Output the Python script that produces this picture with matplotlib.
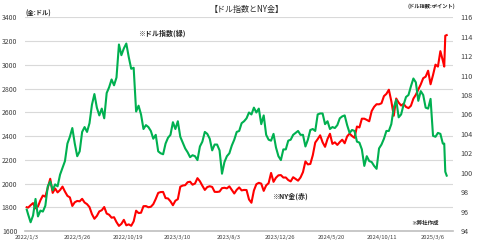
import matplotlib
matplotlib.use("Agg")
import matplotlib.pyplot as plt
import pandas as pd

plt.rcParams['font.family'] = ['Noto Sans CJK JP', 'DejaVu Sans']

# weekly (Friday) closes, first value = 2022/1/3
gold_2022 = [1800,
             1797, 1817, 1835, 1791, 1807, 1859, 1899, 1889, 1966, 2040, 1921, 1958,
             1925, 1945, 1974, 1932, 1896, 1883, 1811, 1842, 1853, 1850, 1871, 1840,
             1826, 1801, 1742, 1703, 1727, 1765, 1775, 1802, 1747, 1737, 1712, 1716,
             1675, 1643, 1660, 1694, 1648, 1656, 1644, 1681, 1771, 1751, 1754, 1809,
             1810, 1800, 1804, 1826]
gold_2023 = [1870, 1921, 1928, 1929, 1877, 1874, 1850, 1817, 1855, 1868, 1973, 1983,
             1986, 2011, 2015, 1990, 2000, 2045, 2019, 1981, 1946, 1970, 1977, 1971,
             1930, 1929, 1932, 1961, 1964, 1959, 1976, 1946, 1916, 1947, 1967, 1942,
             1946, 1945, 1866, 1838, 1941, 1994, 2006, 1999, 1938, 1984, 2003, 2089,
             2014, 2049, 2069, 2071]
gold_2024 = [2050, 2051, 2029, 2018, 2053, 2038, 2024, 2051, 2096, 2186, 2161, 2165,
             2238, 2345, 2374, 2406, 2347, 2309, 2375, 2419, 2334, 2347, 2325, 2349,
             2369, 2339, 2397, 2421, 2400, 2385, 2480, 2472, 2546, 2546, 2536, 2524,
             2610, 2646, 2668, 2667, 2676, 2736, 2755, 2790, 2694, 2571, 2716, 2681,
             2657, 2671, 2645, 2635]
gold_2025 = [2655, 2715, 2748, 2791, 2835, 2887, 2900, 2950, 2836, 2914, 3001, 2985,
             3115, 3035, 2985, 3245, 3250]

dxy_2022 = [96.2,
            95.7, 94.9, 95.6, 97.3, 95.5, 96.1, 96.0, 96.6, 98.6, 99.1, 98.2, 98.8,
            98.6, 99.8, 100.5, 101.2, 103.0, 103.7, 104.6, 103.0, 101.7, 102.2, 104.2, 104.7,
            104.2, 105.1, 107.0, 108.1, 106.7, 105.9, 106.6, 105.6, 108.2, 108.8, 109.6, 109.0,
            109.8, 113.2, 112.1, 112.8, 113.3, 111.9, 110.7, 110.8, 106.3, 106.9, 106.0, 104.5,
            104.9, 104.7, 104.3, 103.5]
dxy_2023 = [103.9, 102.2, 102.0, 101.9, 103.0, 103.6, 103.9, 105.2, 104.5, 105.3, 103.7, 103.1,
            102.5, 102.1, 101.6, 101.8, 101.7, 101.3, 102.7, 103.2, 104.2, 104.0, 103.5, 102.3,
            102.9, 102.9, 102.3, 99.9, 101.1, 101.7, 102.0, 102.8, 103.4, 104.2, 104.3, 105.1,
            105.3, 105.6, 106.2, 106.0, 106.7, 106.2, 106.6, 105.0, 105.9, 103.9, 103.4, 103.3,
            104.0, 102.6, 101.7, 101.3]
dxy_2024 = [102.4, 102.4, 103.3, 103.4, 103.9, 104.1, 104.3, 103.9, 103.9, 102.7, 103.4, 104.4,
            104.5, 104.3, 106.0, 106.1, 106.1, 105.0, 105.3, 104.5, 104.7, 104.6, 104.9, 105.6,
            105.8, 105.9, 104.9, 104.1, 104.4, 104.3, 103.2, 103.1, 102.4, 100.7, 101.7, 101.2,
            101.1, 100.7, 100.4, 102.5, 102.9, 103.5, 104.3, 104.3, 105.0, 106.7, 107.5, 105.7,
            106.0, 107.0, 107.8, 108.0]
dxy_2025 = [108.9, 109.7, 109.3, 107.4, 108.4, 108.0, 106.7, 106.6, 107.6, 103.8, 103.7, 104.1,
            104.0, 103.0, 103.0, 100.1, 99.7]

dates = pd.to_datetime(["2022-01-03"]
                       + list(pd.date_range("2022-01-07", "2025-04-04", freq="W-FRI").strftime("%Y-%m-%d"))
                       + ["2025-04-08", "2025-04-11", "2025-04-15"])
gold = gold_2022 + gold_2023 + gold_2024 + gold_2025
dxy = dxy_2022 + dxy_2023 + dxy_2024 + dxy_2025

tick_labels = ["2022/1/3", "2022/5/26", "2022/10/19", "2023/3/10", "2023/8/3",
               "2023/12/26", "2024/5/20", "2024/10/11", "2025/3/6"]
tick_dates = pd.to_datetime(tick_labels, format="%Y/%m/%d")

W, H = 480, 248
fig = plt.figure(figsize=(W / 100, H / 100), dpi=100)
ax = fig.add_axes([25 / W, 1 - 231 / H, 428 / W, 213.7 / H])
ax2 = ax.twinx()

ax.plot(dates, gold, color="#FF0000", lw=1.5, zorder=2)
ax2.plot(dates, dxy, color="#00B050", lw=1.5, zorder=3)

ax.set_ylim(1600, 3400)
ax.set_yticks(range(1600, 3401, 200))
ax2.set_ylim(94, 116)
ax2.set_yticks(range(94, 117, 2))
ax.set_xlim(pd.Timestamp("2021-12-29"), pd.Timestamp("2025-05-03"))
ax.set_xticks(tick_dates)
ax.set_xticklabels(tick_labels)

ax.grid(axis="y", color="#D9D9D9", lw=0.8)
ax.set_axisbelow(True)
for a in (ax, ax2):
    for s in a.spines.values():
        s.set_visible(False)
ax.spines["bottom"].set_visible(True)
ax.spines["bottom"].set_color("#BFBFBF")
ax.spines["bottom"].set_linewidth(1.2)

ax.tick_params(axis="y", length=0, pad=5.5, labelsize=5, labelcolor="#404040")
ax2.tick_params(axis="y", length=0, pad=5.5, labelsize=5.2, labelcolor="#404040")
ax.tick_params(axis="x", length=0, pad=3, labelsize=4.2, labelcolor="#404040")


def ftext(x, y, s, **kw):
    fig.text(x / W, 1 - y / H, s, va="center", **kw)


ftext(247, 9.3, "【ドル指数とNY金】", ha="center", fontsize=5.8, color="#262626")
ftext(25, 13.3, "(金:ドル)", ha="left", fontsize=4.5, color="#262626", weight="bold")
ftext(455, 6, "(ドル指数:ポイント)", ha="right", fontsize=3.8, color="#262626", weight="bold")
ftext(138, 33.3, "※ドル指数(緑)", ha="left", fontsize=5, color="#262626", weight="bold")
ftext(272, 196, "※NY金(赤)", ha="left", fontsize=5, color="#262626", weight="bold")
ftext(411, 223, "※弊社作成", ha="left", fontsize=4, color="#262626", weight="bold")

fig.savefig("out.png", dpi=100)
